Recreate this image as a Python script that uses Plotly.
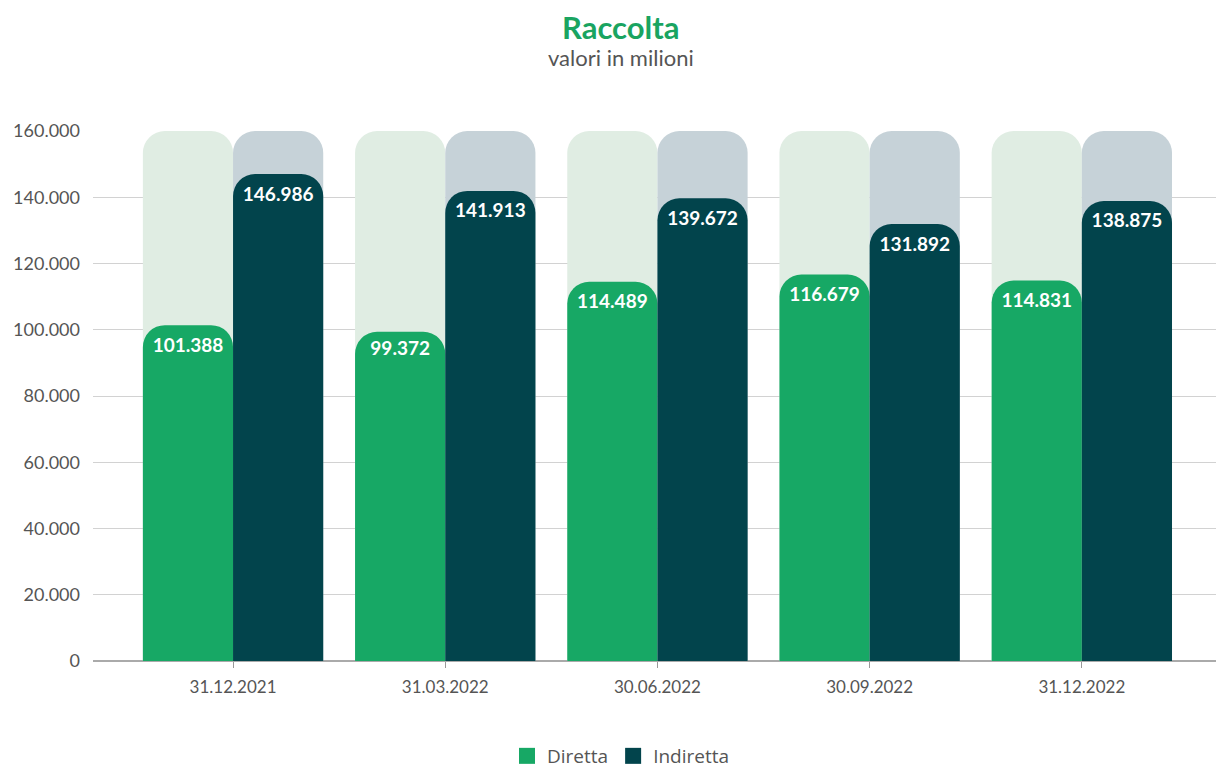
import plotly.graph_objects as go

categories = ["31.12.2021", "31.03.2022", "30.06.2022", "30.09.2022", "31.12.2022"]
diretta = [101388, 99372, 114489, 116679, 114831]
indiretta = [146986, 141913, 139672, 131892, 138875]
max_scale = [160000] * len(categories)
tick_vals = [0, 20000, 40000, 60000, 80000, 100000, 120000, 140000, 160000]
series_names = ["Diretta", "Indiretta"]

GREEN = "#17a865"
TEAL = "#02444c"
GREEN_BG = "#e0ede3"
TEAL_BG = "#c6d2d8"

x = list(range(len(categories)))
W = 0.425
R = 22
XR = [-0.66, 4.67]

# the page body adds an 8px offset; figure coords = screen coords - 8
OFF = 8
FIG_W, FIG_H = 1224 - OFF, 769 - OFF
plot_left = 93 - OFF
plot_top, plot_bottom = 131 - OFF, 661 - OFF
plot_h = plot_bottom - plot_top
plot_w = FIG_W - plot_left
center_x = (621 - 93) / plot_w

fig = go.Figure()
fig.add_trace(go.Bar(x=x, y=max_scale, width=W, offset=-W, marker=dict(color=GREEN_BG, cornerradius=R, line_width=0),
                     showlegend=False, hoverinfo="skip", xaxis="x"))
fig.add_trace(go.Bar(x=x, y=max_scale, width=W, offset=0, marker=dict(color=TEAL_BG, cornerradius=R, line_width=0),
                     showlegend=False, hoverinfo="skip", xaxis="x"))
fig.add_trace(go.Bar(x=x, y=diretta, name=series_names[0], width=W, offset=-W, xaxis="x2", showlegend=False,
                     legendgroup="d",
                     marker=dict(color=GREEN, cornerradius=R, line_width=0),
                     texttemplate="%{y:,.0f}", textposition="inside", insidetextanchor="end",
                     textangle=0, textfont=dict(color="white", size=19, family="Lato", weight="bold")))
fig.add_trace(go.Bar(x=x, y=indiretta, name=series_names[1], width=W, offset=0, xaxis="x2", showlegend=False,
                     legendgroup="i",
                     marker=dict(color=TEAL, cornerradius=R, line_width=0),
                     texttemplate="%{y:,.0f}", textposition="inside", insidetextanchor="end",
                     textangle=0, textfont=dict(color="white", size=19, family="Lato", weight="bold")))
# legend entries with square swatches
for name, col, grp in zip(series_names, [GREEN, TEAL], ["d", "i"]):
    fig.add_trace(go.Scatter(x=[None], y=[None], mode="markers", name=name, legendgroup=grp,
                             marker=dict(symbol="square", size=20, color=col), hoverinfo="skip"))

fig.update_layout(
    width=FIG_W, height=FIG_H,
    barmode="overlay",
    separators=",.",
    plot_bgcolor="white", paper_bgcolor="white",
    margin=dict(l=plot_left, r=0, t=plot_top, b=FIG_H - plot_bottom, autoexpand=False),
    font=dict(family="Lato", color="#555555"),
    showlegend=True,
    legend=dict(orientation="h", x=center_x, xanchor="center", y=(plot_bottom - (756 - OFF)) / plot_h,
                yanchor="middle", font=dict(size=19, color="#555555", family="Open Sans"),
                itemwidth=30, traceorder="normal"),
    annotations=[
        dict(text="<b>Raccolta</b>", x=center_x, xref="paper", y=(plot_bottom - (27 - OFF)) / plot_h, yref="paper",
             yanchor="middle", showarrow=False, font=dict(size=31, color="#1aa461", family="Lato")),
        dict(text="valori in milioni", x=center_x, xref="paper", y=(plot_bottom - (58 - OFF)) / plot_h, yref="paper",
             yanchor="middle", showarrow=False, font=dict(size=22, color="#555555", family="Lato")),
    ],
    xaxis=dict(
        range=XR, tickvals=x, ticktext=categories, showgrid=False,
        showline=False, zeroline=False, automargin=False,
        ticks="outside", ticklen=6, tickcolor="#999999", ticklabelstandoff=5,
        tickfont=dict(size=17, color="#555555", family="Lato"),
    ),
    xaxis2=dict(range=XR, overlaying="x", visible=False, showgrid=False, zeroline=False, automargin=False),
    yaxis=dict(
        range=[0, 160000], tickvals=tick_vals, tickformat=",.0f",
        showgrid=True, gridcolor="#d2d2d2", gridwidth=1,
        zeroline=True, zerolinecolor="#aaaaaa", zerolinewidth=1.5,
        ticklabelstandoff=12, automargin=False,
        tickfont=dict(size=18, color="#555555", family="Lato"),
    ),
)

fig.write_html("out.html")
